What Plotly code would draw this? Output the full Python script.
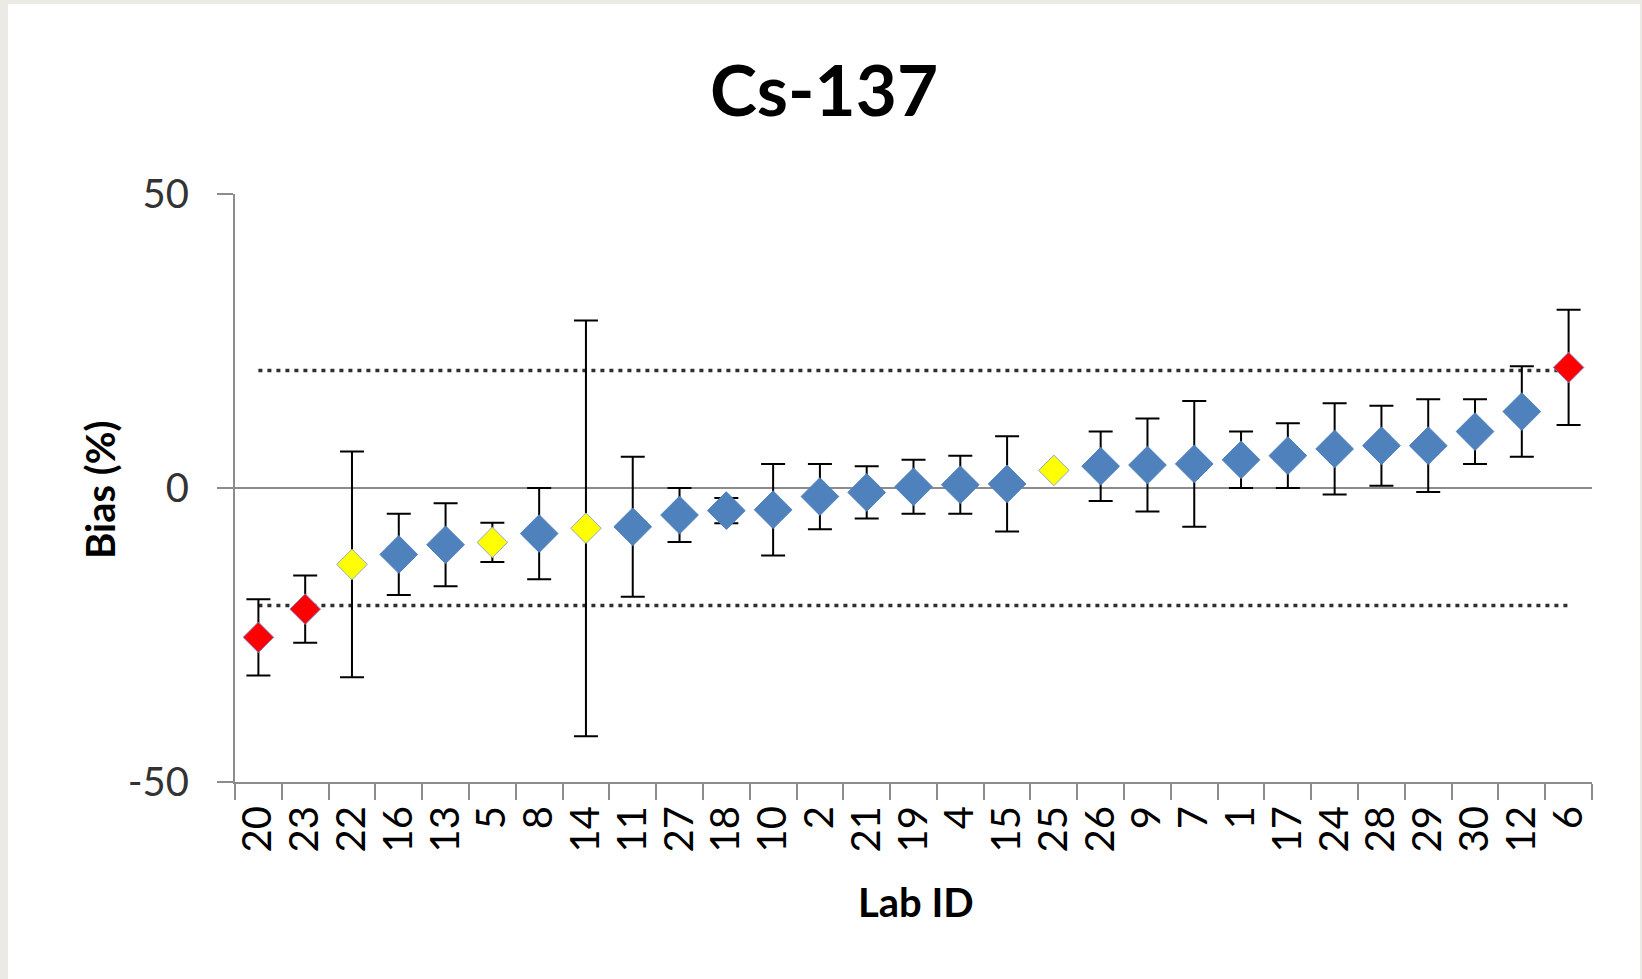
import plotly.graph_objects as go

# ---- data ----
lab_ids = ["20", "23", "22", "16", "13", "5", "8", "14", "11", "27", "18", "10", "2", "21",
           "19", "4", "15", "25", "26", "9", "7", "1", "17", "24", "28", "29", "30", "12", "6"]
bias_pct = [-25.4, -20.6, -13.0, -11.3, -9.65, -9.25, -7.75, -6.85, -6.6, -4.6, -3.85, -3.7,
            -1.45, -0.75, 0.2, 0.55, 0.7, 3.0, 3.7, 3.9, 4.1, 4.8, 5.5, 6.65, 7.2, 7.2, 9.6,
            13.0, 20.5]
uncertainty = [6.5, 5.7, 19.2, 6.9, 7.05, 3.35, 7.75, 35.35, 11.9, 4.6, 2.15, 7.8, 5.55, 4.45,
               4.6, 4.95, 8.1, None, 5.9, 7.9, 10.7, 4.8, 5.5, 7.75, 6.8, 7.9, 5.5, 7.7, 9.8]
status = ["fail", "fail", "warn", "ok", "ok", "warn", "ok", "warn", "ok", "ok", "ok", "ok", "ok",
          "ok", "ok", "ok", "ok", "warn", "ok", "ok", "ok", "ok", "ok", "ok", "ok", "ok", "ok",
          "ok", "fail"]
limit_pct = 20
y_ticks = [-50, 0, 50]

# ---- styles ----
fill = {"ok": "#4F81BD", "warn": "#FFFF00", "fail": "#FF0000"}
edge = {"ok": "#4F81BD", "warn": "#8FA9C9", "fail": "#7F86C4"}
size = {"ok": 29, "warn": 23.5, "fail": 23.5}
frame_gray = "#ECEAE5"

# the page places the figure OFF_X/OFF_Y px in from the top-left corner
OFF_X, OFF_Y = 8, 4
W, H = 1642 - OFF_X, 979 - OFF_Y
L, R, T, B = 235 - OFF_X, 50, 194 - OFF_Y, 197
PW, PH = W - L - R, H - T - B


def px_x(screen_px):
    return (screen_px - OFF_X - L) / PW


def px_y(screen_px):
    return (H - B - (screen_px - OFF_Y)) / PH


fig = go.Figure()

for lim in (limit_pct, -limit_pct):
    fig.add_trace(go.Scatter(
        x=[lab_ids[0], lab_ids[-1]], y=[lim, lim], mode="lines",
        line=dict(color="#303030", width=3.5, dash="4px,5px"),
        hoverinfo="skip", showlegend=False))

fig.add_trace(go.Scatter(
    x=lab_ids, y=bias_pct, mode="markers",
    marker=dict(symbol="diamond", opacity=1,
                color=[fill[s] for s in status],
                size=[size[s] for s in status],
                line=dict(color=[edge[s] for s in status], width=1)),
    error_y=dict(type="data", array=uncertainty, visible=True,
                 color="black", thickness=2, width=12),
    showlegend=False))

grid = "#8C8C8C"
fig.update_layout(
    width=W, height=H,
    margin=dict(l=L, r=R, t=T, b=B, autoexpand=False),
    paper_bgcolor="white", plot_bgcolor="white",
    font=dict(family="Lato, sans-serif", color="#222"),
    title=dict(text="<b>Cs-137</b>", x=px_x(824), xref="paper", xanchor="center",
               y=1 - (91 - OFF_Y) / H, yanchor="middle",
               font=dict(family="Lato, sans-serif", size=71, color="black")),
    xaxis=dict(type="category", categoryorder="array", categoryarray=lab_ids,
               tickmode="array", tickvals=lab_ids, ticktext=lab_ids,
               tickson="boundaries", ticks="outside", ticklen=16, tickcolor=grid, tickwidth=1.5,
               showline=True, linecolor=grid, linewidth=2, showgrid=False,
               tickangle=-90, tickfont=dict(family="Lato, sans-serif", size=40, color="black"),
               ticklabelstandoff=6, range=[-0.5, len(lab_ids) - 0.5]),
    yaxis=dict(range=[-50, 50], tickvals=y_ticks, ticktext=[str(v) for v in y_ticks],
               showgrid=True, gridcolor=grid, gridwidth=2, zeroline=False,
               showline=True, linecolor=grid, linewidth=2,
               ticks="outside", ticklen=16, tickcolor=grid, tickwidth=1.5,
               tickfont=dict(family="Lato, sans-serif", size=40, color="#333"),
               ticklabelstandoff=20),
    annotations=[
        dict(text="<b>Lab ID</b>", xref="paper", yref="paper", x=px_x(916), y=px_y(902),
             xanchor="center", yanchor="middle", showarrow=False,
             font=dict(family="Lato, sans-serif", size=40, color="black")),
        dict(text="<b>Bias (%)</b>", xref="paper", yref="paper", x=px_x(100), y=px_y(490),
             xanchor="center", yanchor="middle", showarrow=False, textangle=-90,
             font=dict(family="Lato, sans-serif", size=40, color="black")),
    ],
    shapes=[
        dict(type="rect", xref="paper", yref="paper", x0=px_x(1640), x1=px_x(1642),
             y0=px_y(979), y1=px_y(OFF_Y), fillcolor=frame_gray, line=dict(width=0),
             layer="below"),
    ],
)

page_style = ("document.body.style.margin='%dpx 0 0 %dpx';"
              "document.body.style.background='%s';" % (OFF_Y, OFF_X, frame_gray))
fig.write_html("out.html", post_script=page_style)
